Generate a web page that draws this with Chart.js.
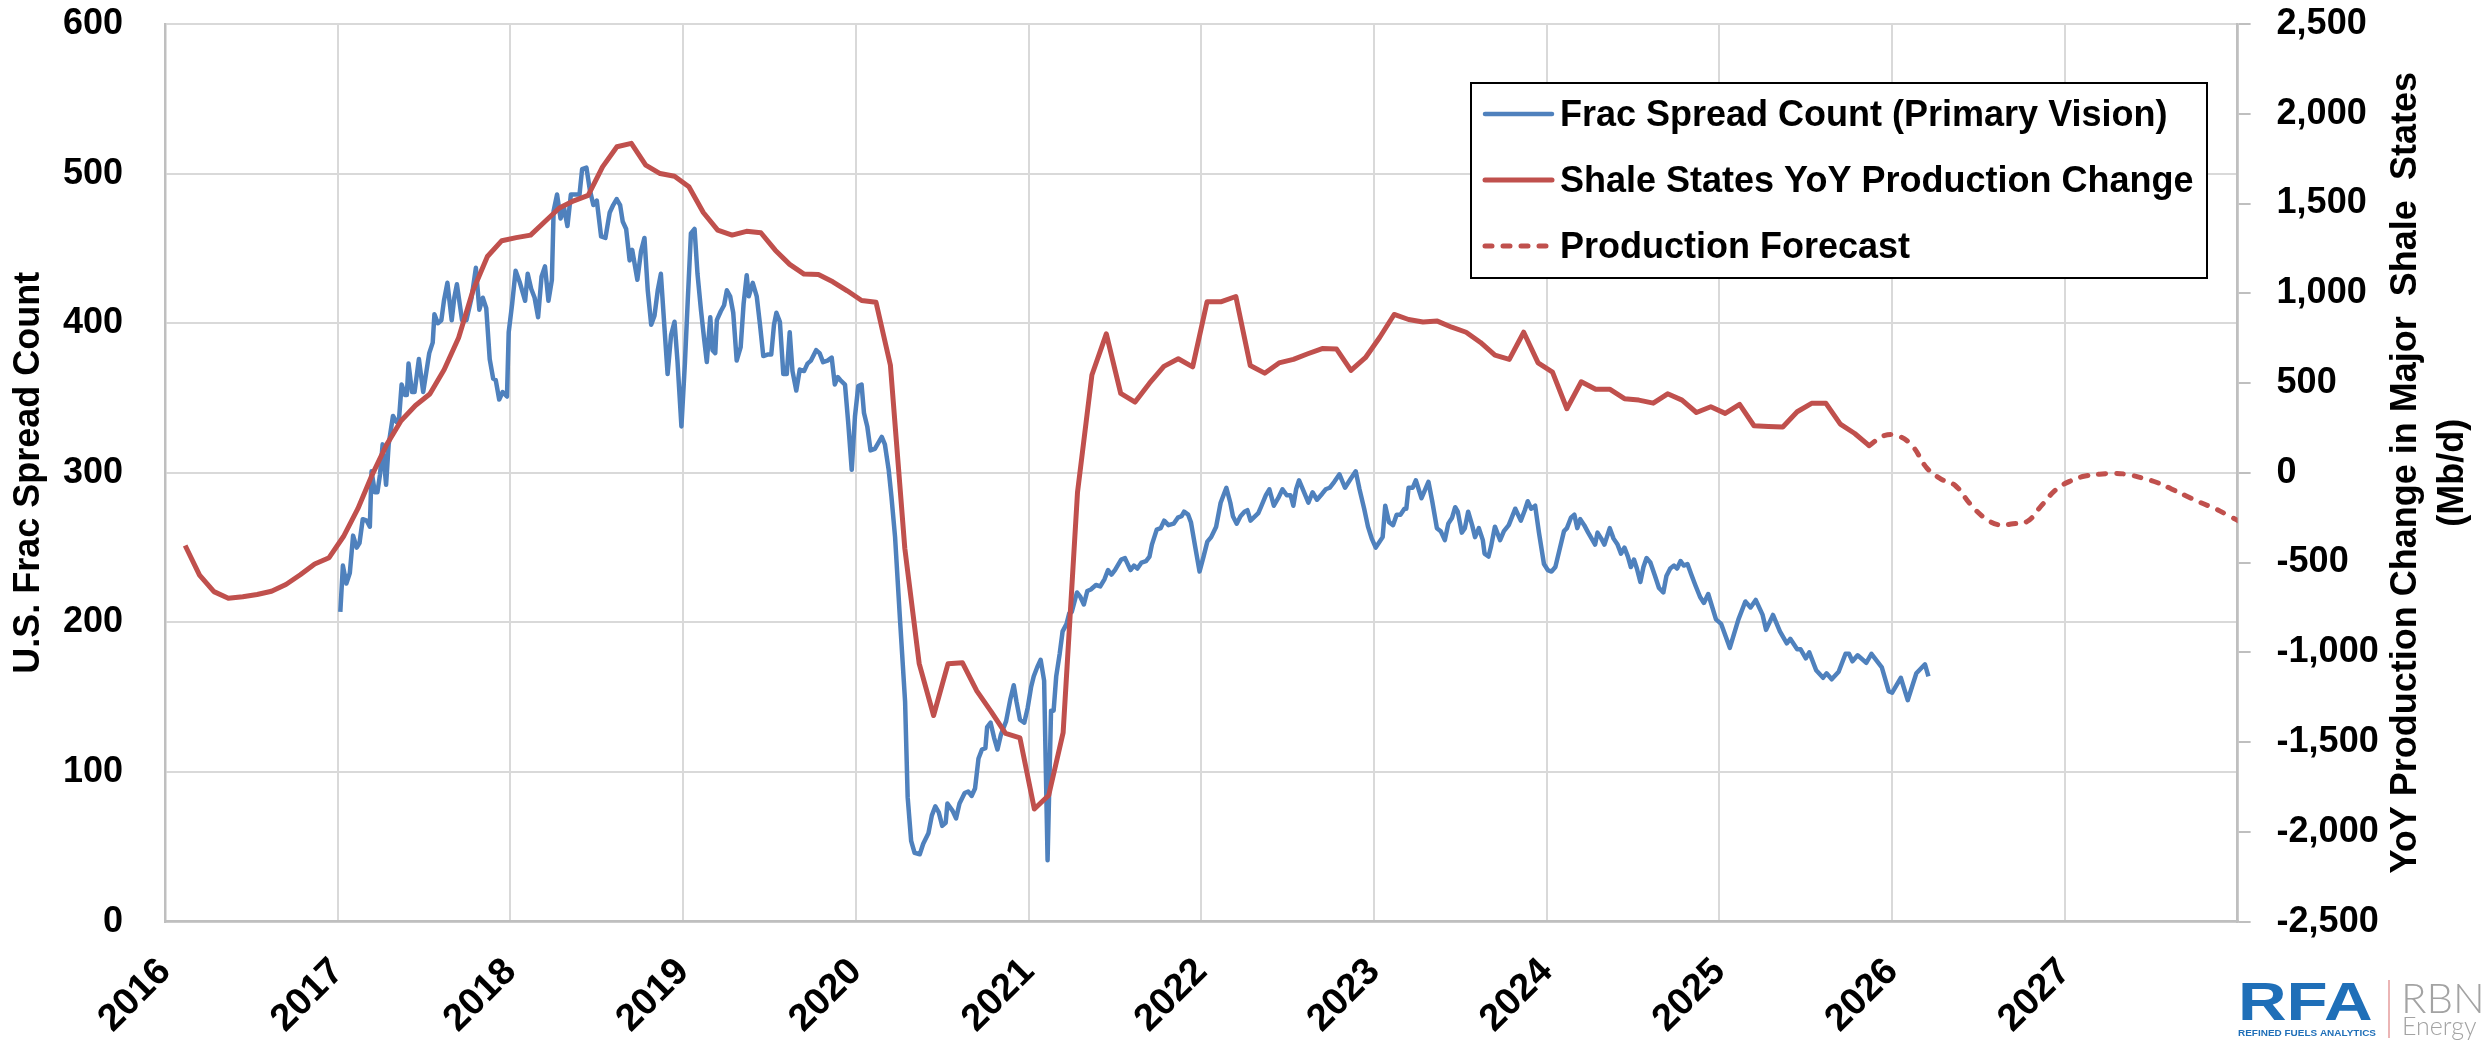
<!DOCTYPE html>
<html>
<head>
<meta charset="utf-8">
<style>
  html, body { margin: 0; padding: 0; background: #fff; }
  canvas { display: block; }
</style>
<script src="https://cdn.jsdelivr.net/npm/chart.js@4.4.1/dist/chart.umd.min.js"></script>
</head>
<body>
<canvas id="chart" width="2483" height="1041"></canvas>
<script>
const FONT = "'Liberation Sans', Arial, sans-serif";
const BLUE = "#4f81bd";
const RED = "#c0504d";

// weekly frac spread count (Primary Vision), dates as decimal years
const fracDates = [
  2017.015, 2017.03, 2017.05, 2017.07, 2017.089, 2017.11, 2017.126, 2017.145, 2017.168, 2017.186,
  2017.196, 2017.215, 2017.23, 2017.245, 2017.26, 2017.28, 2017.295, 2017.32, 2017.34, 2017.355,
  2017.37, 2017.39, 2017.40, 2017.41, 2017.43, 2017.445, 2017.47, 2017.495, 2017.53, 2017.55,
  2017.56, 2017.58, 2017.60, 2017.615, 2017.635, 2017.66, 2017.675, 2017.69, 2017.72, 2017.745,
  2017.775, 2017.80, 2017.82, 2017.84, 2017.86, 2017.88, 2017.90, 2017.915, 2017.935, 2017.955,
  2017.98, 2017.99,
  2018.01, 2018.03, 2018.055, 2018.085, 2018.10, 2018.12, 2018.14, 2018.16, 2018.18, 2018.20,
  2018.22, 2018.24, 2018.25, 2018.27, 2018.29, 2018.31, 2018.33, 2018.35, 2018.375, 2018.40,
  2018.415, 2018.44, 2018.46, 2018.48, 2018.50, 2018.525, 2018.55, 2018.575, 2018.595, 2018.615,
  2018.635, 2018.65, 2018.67, 2018.69, 2018.705, 2018.735, 2018.756, 2018.776, 2018.795, 2018.815,
  2018.834, 2018.853, 2018.871, 2018.89, 2018.91, 2018.93, 2018.95, 2018.967, 2018.99,
  2019.01, 2019.027, 2019.045, 2019.066, 2019.083, 2019.103, 2019.122, 2019.137, 2019.157, 2019.17,
  2019.186, 2019.195, 2019.218, 2019.237, 2019.253, 2019.272, 2019.29, 2019.31, 2019.333, 2019.35,
  2019.368, 2019.38, 2019.403, 2019.426, 2019.445, 2019.464, 2019.488, 2019.51, 2019.526, 2019.54,
  2019.56, 2019.58, 2019.60, 2019.617, 2019.633, 2019.655, 2019.675, 2019.70, 2019.72, 2019.74,
  2019.77, 2019.79, 2019.81, 2019.836, 2019.86, 2019.878, 2019.895, 2019.91, 2019.937, 2019.956,
  2019.976, 2019.995,
  2020.014, 2020.033, 2020.047, 2020.066, 2020.085, 2020.11, 2020.13, 2020.15, 2020.168, 2020.19,
  2020.206, 2020.227, 2020.256, 2020.285, 2020.30, 2020.32, 2020.34, 2020.37, 2020.39, 2020.42,
  2020.44, 2020.46, 2020.48, 2020.50, 2020.52, 2020.53, 2020.56, 2020.58, 2020.60, 2020.63,
  2020.65, 2020.67, 2020.69, 2020.71, 2020.73, 2020.75, 2020.76, 2020.78, 2020.80, 2020.82,
  2020.84, 2020.87, 2020.895, 2020.914, 2020.93, 2020.95, 2020.975, 2020.995,
  2021.015, 2021.03, 2021.05, 2021.07, 2021.09, 2021.11, 2021.13, 2021.145, 2021.16, 2021.18,
  2021.197, 2021.22, 2021.235, 2021.25, 2021.28, 2021.30, 2021.32, 2021.34, 2021.36, 2021.39,
  2021.415, 2021.44, 2021.46, 2021.48, 2021.50, 2021.536, 2021.558, 2021.59, 2021.61, 2021.63,
  2021.654, 2021.68, 2021.70, 2021.714, 2021.742, 2021.765, 2021.785, 2021.81, 2021.84, 2021.864,
  2021.886, 2021.90, 2021.924, 2021.94, 2021.964, 2021.99,
  2022.013, 2022.035, 2022.057, 2022.086, 2022.112, 2022.145, 2022.168, 2022.183, 2022.205, 2022.227,
  2022.25, 2022.267, 2022.285, 2022.312, 2022.33, 2022.345, 2022.374, 2022.394, 2022.42, 2022.445,
  2022.47, 2022.495, 2022.517, 2022.533, 2022.549, 2022.566, 2022.588, 2022.62, 2022.644, 2022.67,
  2022.70, 2022.72, 2022.743, 2022.77, 2022.80, 2022.832, 2022.865, 2022.894, 2022.916, 2022.943,
  2022.965, 2022.987,
  2023.01, 2023.05, 2023.065, 2023.087, 2023.11, 2023.131, 2023.153, 2023.176, 2023.187, 2023.20,
  2023.224, 2023.242, 2023.275, 2023.315, 2023.337, 2023.364, 2023.386, 2023.41, 2023.43, 2023.452,
  2023.47, 2023.485, 2023.508, 2023.526, 2023.545, 2023.568, 2023.585, 2023.607, 2023.63, 2023.64,
  2023.663, 2023.678, 2023.70, 2023.73, 2023.752, 2023.78, 2023.818, 2023.85, 2023.873, 2023.89,
  2023.91, 2023.933, 2023.955, 2023.984,
  2024.006, 2024.028, 2024.05, 2024.073, 2024.10, 2024.117, 2024.14, 2024.16, 2024.177, 2024.194,
  2024.217, 2024.24, 2024.265, 2024.28, 2024.294, 2024.316, 2024.334, 2024.365, 2024.387, 2024.41,
  2024.43, 2024.45, 2024.47, 2024.487, 2024.505, 2024.522, 2024.542, 2024.56, 2024.578, 2024.60,
  2024.627, 2024.65, 2024.675, 2024.693, 2024.715, 2024.737, 2024.755, 2024.775, 2024.793, 2024.815,
  2024.837, 2024.86, 2024.888, 2024.91, 2024.935, 2024.98,
  2025.01, 2025.06, 2025.11, 2025.15, 2025.18, 2025.21, 2025.25, 2025.27, 2025.31, 2025.35,
  2025.39, 2025.41, 2025.45, 2025.47, 2025.50, 2025.52, 2025.56, 2025.60, 2025.62, 2025.65,
  2025.69, 2025.73, 2025.75, 2025.77, 2025.80, 2025.85, 2025.88, 2025.92, 2025.94, 2025.98,
  2026.00, 2026.05, 2026.09, 2026.14, 2026.19, 2026.21
];
const fracCounts = [
  207, 238, 226, 233, 258, 250, 253, 269, 268, 264,
  301, 287, 287, 299, 319, 292, 319, 338, 334, 336,
  359, 352, 352, 373, 354, 354, 376, 354, 380, 387,
  406, 400, 402, 415, 427, 402, 417, 426, 402, 402,
  417, 437, 409, 417, 410, 376, 363, 362, 349, 354,
  351, 394,
  413, 435, 427, 415, 433, 423, 417, 404, 431, 438,
  415, 429, 475, 486, 470, 477, 465, 486, 486, 486,
  503, 504, 489, 479, 482, 458, 457, 474, 479, 483,
  479, 468, 463, 442, 449, 429, 448, 457, 422, 399,
  405, 422, 433, 400, 366, 392, 401, 375, 331,
  373, 416, 460, 463, 433, 409, 389, 374, 404, 382,
  380, 402, 408, 412, 422, 418, 407, 375, 384, 413,
  432, 418, 427, 418, 399, 378, 379, 379, 399, 407,
  401, 366, 366, 394, 368, 355, 369, 368, 373, 375,
  382, 380, 374, 375, 377, 359, 364, 362, 359, 333,
  302, 338,
  358, 359, 340, 331, 315, 316, 320, 324, 319, 302,
  284, 257, 201, 147, 83, 54, 46, 45, 52, 59,
  71, 77, 73, 64, 66, 79, 74, 69, 79, 86,
  87, 84, 89, 109, 115, 116, 130, 133, 123, 115,
  125, 134, 149, 158, 147, 135, 133, 143,
  157, 164, 170, 175, 161, 41, 141, 141, 164, 179,
  194, 199, 206, 207, 220, 217, 212, 221, 222, 225,
  224, 229, 235, 232, 235, 242, 243, 235, 238, 236,
  240, 241, 244, 252, 262, 263, 268, 265, 266, 270,
  271, 274, 272, 267, 251, 234,
  244, 254, 257, 264, 280, 290, 280, 271, 266, 271,
  274, 275, 268, 271, 273, 277, 285, 289, 278, 283,
  289, 285, 285, 278, 289, 295, 289, 280, 287, 282,
  286, 289, 290, 294, 299, 290, 296, 301, 289, 276,
  264, 256,
  250, 257, 278, 267, 265, 272, 272, 276, 276, 290,
  290, 295, 283, 294, 281, 263, 261, 255, 266, 270,
  277, 274, 260, 263, 274, 265, 257, 263, 255, 246,
  244, 251, 264, 255, 261, 265, 276, 268, 275, 281,
  276, 278, 260, 239,
  235, 234, 237, 248, 261, 263, 270, 272, 263, 269,
  265, 260, 255, 252, 260, 256, 252, 263, 256, 252,
  246, 250, 244, 237, 242, 236, 227, 237, 243, 240,
  231, 223, 220, 231, 236, 238, 236, 241, 238, 239,
  232, 225, 217, 213, 219, 202,
  199, 183, 202, 214, 210, 215, 205, 195, 205, 194,
  186, 189, 182, 182, 176, 180, 168, 163, 166, 162,
  167, 179, 179, 174, 178, 173, 179, 173, 170, 154,
  153, 163, 148, 166, 172, 164
];

// monthly YoY production change in major shale states (Mb/d), Feb 2016 .. Nov 2025
const prodStart = [2016, 2];
const prodChange = [
  -405, -570, -662, -699, -690, -678, -660, -622, -568, -508, -473,
  -355, -200, -10, 157, 290, 375, 439, 575, 752, 1015, 1205, 1293,
  1310, 1324, 1400, 1475, 1515, 1545, 1704, 1816, 1835, 1714, 1667, 1652,
  1593, 1450, 1352, 1324, 1345, 1337, 1240, 1161, 1107, 1104, 1064, 1014,
  960, 950, 599, -420, -1063, -1352, -1064, -1058, -1215, -1330, -1452, -1477,
  -1873, -1796, -1447, -108, 545, 774, 442, 394, 499, 593, 635, 590,
  953, 953, 982, 598, 555, 612, 632, 663, 692, 689, 570, 641,
  755, 882, 854, 840, 845, 811, 783, 726, 655, 632, 783, 612,
  561, 357, 507, 465, 465, 413, 405, 388, 440, 405, 336, 368,
  331, 381, 262, 258, 255, 340, 387, 387, 271, 219, 151
];

// production forecast, Nov 2025 .. Jan 2028
const forecastStart = [2025, 11];
const forecastChange = [
  151, 206,
  206, 150, 28, -35, -72, -172, -250, -290, -284, -270, -180, -92,
  -45, -18, -8, -3, -10, -30, -54, -90, -128, -165, -198, -240,
  -282
];

const legendLabels = [
  "Frac Spread Count (Primary Vision)",
  "Shale States YoY Production Change",
  "Production Forecast"
];
const leftTitle = "U.S. Frac Spread Count";
const rightTitle = ["YoY Production Change in Major  Shale  States", "(Mb/d)"];

// month -> position on the year axis
function monthX(year, month) {
  return year + (month - 0.6) / 12;
}

function monthly(start, values) {
  return values.map((v, i) => ({ x: monthX(start[0], start[1] + i), y: v }));
}

const fracData = fracDates.map((d, i) => ({ x: d, y: fracCounts[i] }));

const legendBox = {
  id: "legendBox",
  afterDraw(chart) {
    const ctx = chart.ctx;
    ctx.save();
    ctx.fillStyle = "#fff";
    ctx.fillRect(1471, 83, 736, 195);
    ctx.strokeStyle = "#000";
    ctx.lineWidth = 2;
    ctx.strokeRect(1471, 83, 736, 195);

    const styles = [
      { color: BLUE, dash: [], width: 4.5 },
      { color: RED, dash: [], width: 5 },
      { color: RED, dash: [7, 11], width: 5 }
    ];
    const rows = [114, 180, 246];
    ctx.font = "bold 36px " + FONT;
    ctx.textBaseline = "middle";
    ctx.fillStyle = "#000";
    legendLabels.forEach((label, i) => {
      ctx.beginPath();
      ctx.setLineDash(styles[i].dash);
      ctx.lineCap = "round";
      ctx.strokeStyle = styles[i].color;
      ctx.lineWidth = styles[i].width;
      ctx.moveTo(1485, rows[i]);
      ctx.lineTo(1552, rows[i]);
      ctx.stroke();
      ctx.setLineDash([]);
      ctx.fillText(label, 1560, rows[i] + 2);
    });
    ctx.restore();
  }
};

const rightTitlePlugin = {
  id: "rightTitle",
  afterDraw(chart) {
    const ctx = chart.ctx;
    const area = chart.chartArea;
    const cy = (area.top + area.bottom) / 2;
    ctx.save();
    ctx.font = "bold 36px " + FONT;
    ctx.fillStyle = "#000";
    ctx.textAlign = "center";
    ctx.textBaseline = "middle";
    [2406, 2453].forEach((x, i) => {
      ctx.save();
      ctx.translate(x, cy);
      ctx.rotate(-Math.PI / 2);
      ctx.fillText(rightTitle[i], 0, 0);
      ctx.restore();
    });
    ctx.restore();
  }
};

const logoPlugin = {
  id: "logo",
  afterDraw(chart) {
    const ctx = chart.ctx;
    ctx.save();
    ctx.textBaseline = "alphabetic";
    ctx.textAlign = "left";

    // RFA
    ctx.save();
    ctx.translate(2238, 1020);
    ctx.scale(1.27, 1);
    ctx.font = "bold 53px " + FONT;
    ctx.fillStyle = "#1f6fb8";
    ctx.fillText("RFA", 0, 0);
    ctx.restore();

    ctx.save();
    ctx.font = "bold 9px " + FONT;
    const small = "REFINED FUELS ANALYTICS";
    const w = ctx.measureText(small).width;
    ctx.translate(2238, 1036);
    ctx.scale(138 / w, 1);
    ctx.fillStyle = "#1f6fb8";
    ctx.fillText(small, 0, 0);
    ctx.restore();

    ctx.strokeStyle = "#e59c9c";
    ctx.lineWidth = 1.5;
    ctx.beginPath();
    ctx.moveTo(2389, 980);
    ctx.lineTo(2389, 1038);
    ctx.stroke();

    ctx.fillStyle = "#a3a3a3";
    ctx.font = "300 42px Lato, " + FONT;
    ctx.fillText("RBN", 2401, 1013);
    ctx.font = "300 25px Lato, " + FONT;
    ctx.fillText("Energy", 2402, 1035);
    ctx.restore();
  }
};

Chart.defaults.font.family = FONT;
Chart.defaults.color = "#000";

new Chart(document.getElementById("chart"), {
  type: "line",
  data: {
    datasets: [
      {
        label: legendLabels[1],
        data: monthly(prodStart, prodChange),
        yAxisID: "y1",
        borderColor: RED,
        borderWidth: 5,
        pointRadius: 0,
        tension: 0,
        borderJoinStyle: "round"
      },
      {
        label: legendLabels[2],
        data: monthly(forecastStart, forecastChange),
        yAxisID: "y1",
        borderColor: RED,
        borderWidth: 5,
        borderDash: [7, 11],
        borderCapStyle: "round",
        pointRadius: 0,
        tension: 0.4
      },
      {
        label: legendLabels[0],
        data: fracData,
        yAxisID: "y",
        borderColor: BLUE,
        borderWidth: 4.5,
        pointRadius: 0,
        tension: 0,
        borderJoinStyle: "round"
      }
    ]
  },
  options: {
    responsive: false,
    animation: false,
    devicePixelRatio: 1,
    layout: { padding: { top: 24, left: 0, right: 0, bottom: 0 } },
    plugins: {
      legend: { display: false },
      tooltip: { enabled: false }
    },
    scales: {
      x: {
        type: "linear",
        min: 2016,
        max: 2028,
        afterFit(scale) { scale.height = 119.4; },
        ticks: {
          stepSize: 1,
          autoSkip: false,
          minRotation: 45,
          maxRotation: 45,
          padding: 28,
          font: { size: 38, weight: "bold" },
          callback: (v) => (v === 2028 ? "" : String(v))
        },
        grid: { color: "#d9d9d9", lineWidth: 2, drawTicks: false },
        border: { color: "#bfbfbf", width: 2.5 }
      },
      y: {
        position: "left",
        min: 0,
        max: 600,
        afterFit(scale) {
          scale.width = 165;
          scale.paddingTop = 20;
          scale.paddingBottom = 20;
        },
        ticks: {
          stepSize: 100,
          padding: 42,
          font: { size: 36, weight: "bold" }
        },
        title: {
          display: true,
          text: leftTitle,
          font: { size: 36, weight: "bold" },
          padding: { top: 7, bottom: 0 }
        },
        grid: { color: "#d9d9d9", lineWidth: 2, drawTicks: false },
        border: { color: "#bfbfbf", width: 2.5 }
      },
      y1: {
        position: "right",
        min: -2500,
        max: 2500,
        afterFit(scale) {
          scale.width = 245.4;
          scale.paddingTop = 20;
          scale.paddingBottom = 20;
        },
        ticks: {
          stepSize: 500,
          padding: 26,
          font: { size: 36, weight: "bold" }
        },
        grid: {
          drawOnChartArea: false,
          drawTicks: true,
          tickLength: 13,
          color: "#bfbfbf",
          lineWidth: 2
        },
        border: { color: "#bfbfbf", width: 2.5 }
      }
    }
  },
  plugins: [legendBox, rightTitlePlugin, logoPlugin]
});
</script>
</body>
</html>
